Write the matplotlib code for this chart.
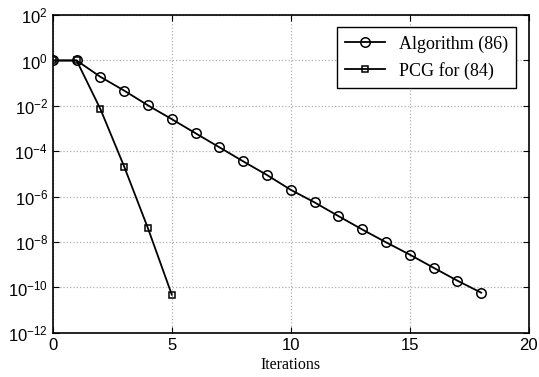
import numpy as np
import matplotlib
matplotlib.use("Agg")
import matplotlib.pyplot as plt

# === DANE ===
iters_alg = list(range(0, 19))
res_alg = [1.0, 1.0, 0.19, 0.047, 0.0105, 2.6e-3, 6.2e-4, 1.5e-4, 3.6e-5, 9.0e-6,
           2.0e-6, 5.6e-7, 1.4e-7, 3.6e-8, 9.8e-9, 2.8e-9, 7.4e-10, 2.0e-10, 5.9e-11]

iters_pcg = list(range(0, 6))
res_pcg = [1.0, 1.0, 7.2e-3, 2.1e-5, 4.0e-8, 4.8e-11]

x_ticks = [0, 5, 10, 15, 20]
y_ticks = [1e2, 1e0, 1e-2, 1e-4, 1e-6, 1e-8, 1e-10, 1e-12]

# === STYL ===
plt.rcParams["font.family"] = ["Liberation Sans", "DejaVu Sans"]
plt.rcParams["mathtext.fontset"] = "custom"
plt.rcParams["mathtext.rm"] = "Liberation Sans"
plt.rcParams["mathtext.it"] = "Liberation Sans"

fig = plt.figure(figsize=(5.39, 3.77), dpi=100)
ax = fig.add_axes([0.098, 0.117, 0.883, 0.843])

ax.semilogy(iters_alg, res_alg, color="black", linewidth=1.3, marker="o",
            markersize=6.8, markerfacecolor="none", markeredgewidth=1.1,
            label="Algorithm (86)")
ax.semilogy(iters_pcg, res_pcg, color="black", linewidth=1.3, marker="s",
            markersize=5, markerfacecolor="none", markeredgewidth=1.1,
            label="PCG for (84)")

ax.set_xlim(0, 20)
ax.set_ylim(1e-12, 1e2)
ax.set_xticks(x_ticks)
ax.set_yticks(y_ticks)
ax.yaxis.set_minor_locator(matplotlib.ticker.NullLocator())
ax.tick_params(direction="in", top=True, right=True, labelsize=12, length=4, width=0.8)

ax.grid(True, linestyle=":", color="#b0b0b0", linewidth=0.9)
for s in ax.spines.values():
    s.set_linewidth(1.2)

ax.set_xlabel("Iterations", family=["Liberation Serif"], fontsize=11.5, labelpad=3)

leg = ax.legend(loc="upper right", prop={"family": "Liberation Serif", "size": 13},
                fancybox=False, edgecolor="black", framealpha=1,
                handlelength=2.2, borderpad=0.45, labelspacing=0.5,
                bbox_to_anchor=(0.993, 0.99))
leg.get_frame().set_linewidth(1.0)

fig.savefig("out.png", dpi=100)
